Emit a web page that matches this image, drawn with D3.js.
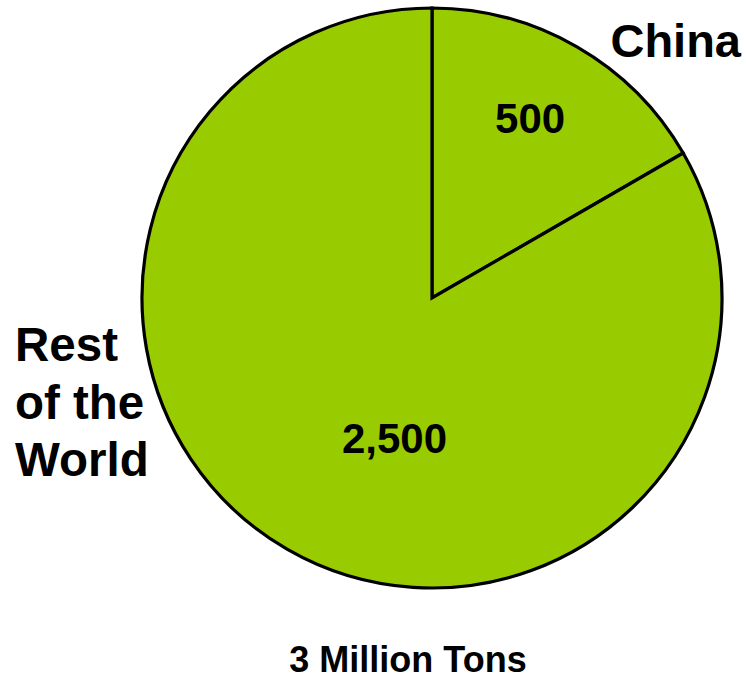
<!DOCTYPE html>
<html>
<head>
<meta charset="utf-8">
<script src="https://cdn.jsdelivr.net/npm/d3@7"></script>
<style>
  html, body { margin: 0; padding: 0; background: #fff; }
  svg { display: block; }
  text { font-family: "Liberation Sans", Arial, Helvetica, sans-serif; font-weight: bold; fill: #000; }
</style>
</head>
<body>
<svg id="chart" width="746" height="680"></svg>
<script>
// Data
const categories = ["China", "Rest of the World"];
const values = [500, 2500];
const valueLabels = ["500", "2,500"];
const totalLabel = "3 Million Tons";

// Layout
const W = 746, H = 680;
const cx = 432, cy = 298, R = 290;
const fill = "#99CC00";

const svg = d3.select("#chart");
const g = svg.append("g").attr("transform", `translate(${cx},${cy})`);

const pie = d3.pie().sort(null).value(d => d).startAngle(0).endAngle(2 * Math.PI);
const arcs = pie(values);
const arc = d3.arc().innerRadius(0).outerRadius(R);

g.selectAll("path.slice")
  .data(arcs)
  .enter().append("path")
  .attr("class", "slice")
  .attr("d", arc)
  .attr("fill", fill)
  .attr("stroke", "#000")
  .attr("stroke-width", 3.2)
  .attr("stroke-linejoin", "miter");

// value labels: placed by polar offset (angle degrees clockwise from top, radius fraction)
const valuePlacement = [
  { ang: 28.6, rf: 0.707 },
  { ang: 195, rf: 0.50 }
];
g.selectAll("text.val")
  .data(arcs)
  .enter().append("text")
  .attr("class", "val")
  .attr("text-anchor", "middle")
  .attr("font-size", 42)
  .attr("x", (d, i) => Math.sin(valuePlacement[i].ang * Math.PI / 180) * R * valuePlacement[i].rf)
  .attr("y", (d, i) => -Math.cos(valuePlacement[i].ang * Math.PI / 180) * R * valuePlacement[i].rf + 15)
  .text((d, i) => valueLabels[i]);

// category labels
svg.append("text")
  .attr("x", 741).attr("y", 57)
  .attr("text-anchor", "end")
  .attr("font-size", 47)
  .text(categories[0]);

const rowLines = ["Rest", "of the", "World"];
const rt = svg.append("text")
  .attr("x", 15).attr("y", 361)
  .attr("font-size", 47.5);
rowLines.forEach((l, i) => {
  rt.append("tspan").attr("x", 15).attr("dy", i === 0 ? 0 : 57.5).text(l);
});

// total label
svg.append("text")
  .attr("x", 408).attr("y", 672)
  .attr("text-anchor", "middle")
  .attr("font-size", 36)
  .text(totalLabel);
</script>
</body>
</html>
